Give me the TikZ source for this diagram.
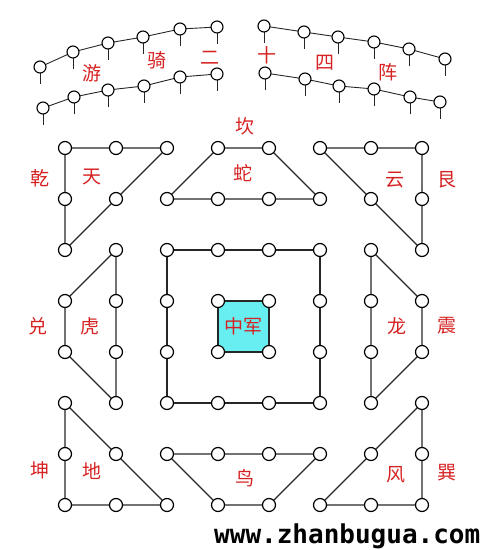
\documentclass[tikz,border=0pt]{standalone}
\usepackage{fontspec}
\newfontfamily\cjk{Noto Sans CJK SC}
\newfontfamily\wmfont{DejaVu Sans Mono}
\definecolor{lblred}{RGB}{214,34,34}
\definecolor{zjcyan}{RGB}{102,238,240}
\begin{document}
\begin{tikzpicture}[x=1pt,y=-1pt,
  dot/.style={circle,draw=black,fill=white,line width=1.2pt,minimum size=13pt,inner sep=0pt},
  pin/.style={circle,draw=black,fill=white,line width=1.1pt,minimum size=12pt,inner sep=0pt},
  edge/.style={line width=1.2pt,draw=black!85},
  pinline/.style={line width=0.9pt,draw=black!85},
  lbl/.style={text=lblred,font=\cjk\fontsize{19}{19}\selectfont,inner sep=0pt}]
\useasboundingbox (0,0) rectangle (487,550);
% top pins
\foreach \n/\x/\y in {a1/40/67,a2/73/52,a3/108/43,a4/143/37,a5/180/29,a6/217/27,
  b1/43/108,b2/74/97,b3/108/90,b4/144/86,b5/180/77,b6/217/74,
  c1/264/26,c2/304/32,c3/338/37,c4/374/42,c5/409/49,c6/445/59,
  d1/265/73,d2/305/79,d3/339/86,d4/374/89,d5/410/97,d6/440/102}
  {\coordinate (\n) at (\x,\y);
   \draw[pinline] (\n) -- ++(0,17);}
\draw[pinline] (a1)--(a2)--(a3)--(a4)--(a5)--(a6);
\draw[pinline] (b1)--(b2)--(b3)--(b4)--(b5)--(b6);
\draw[pinline] (c1)--(c2)--(c3)--(c4)--(c5)--(c6);
\draw[pinline] (d1)--(d2)--(d3)--(d4)--(d5)--(d6);
\foreach \n in {a1,a2,a3,a4,a5,a6,b1,b2,b3,b4,b5,b6,c1,c2,c3,c4,c5,c6,d1,d2,d3,d4,d5,d6}
  \node[pin] (P\n) at (\n) {};
% center square fill
\fill[zjcyan] (218,301) rectangle (269,352);
% grid nodes
\foreach \n/\x/\y in {
  A1/65/148,A2/116/148,A3/167/148,A4/65/199,A5/65/250,A6/116/199,
  S1/218/148,S2/269/148,S3/167/199,S4/218/199,S5/269/199,S6/320/199,
  C1/320/148,C2/371/148,C3/422/148,C4/422/199,C5/422/250,C6/371/199,
  T1/116/250,T2/116/301,T3/116/352,T4/116/403,T5/65/301,T6/65/352,
  Q1/167/250,Q2/218/250,Q3/269/250,Q4/320/250,Q5/320/301,Q6/320/352,Q7/320/403,
  Q8/269/403,Q9/218/403,Q10/167/403,Q11/167/352,Q12/167/301,
  M1/218/301,M2/269/301,M3/269/352,M4/218/352,
  D1/371/250,D2/371/301,D3/371/352,D4/371/403,D5/422/301,D6/422/352,
  E1/65/403,E2/65/454,E3/65/505,E4/116/505,E5/167/505,E6/116/454,
  B1/167/454,B2/218/454,B3/269/454,B4/320/454,B5/218/505,B6/269/505,
  W1/422/403,W2/422/454,W3/422/505,W4/371/505,W5/320/505,W6/371/454}
  \coordinate (\n) at (\x,\y);
\draw[edge] (A1)--(A2)--(A3)--(A6)--(A5)--(A4)--(A1);
\draw[edge] (S1)--(S2)--(S6)--(S5)--(S4)--(S3)--(S1);
\draw[edge] (C1)--(C2)--(C3)--(C4)--(C5)--(C6)--(C1);
\draw[edge] (T1)--(T2)--(T3)--(T4)--(T6)--(T5)--(T1);
\draw[edge] (Q1)--(Q2)--(Q3)--(Q4)--(Q5)--(Q6)--(Q7)--(Q8)--(Q9)--(Q10)--(Q11)--(Q12)--(Q1);
\draw[edge] (M1)--(M2)--(M3)--(M4)--(M1);
\draw[edge] (D1)--(D2)--(D3)--(D4)--(D6)--(D5)--(D1);
\draw[edge] (E1)--(E2)--(E3)--(E4)--(E5)--(E6)--(E1);
\draw[edge] (B1)--(B2)--(B3)--(B4)--(B6)--(B5)--(B1);
\draw[edge] (W1)--(W2)--(W3)--(W4)--(W5)--(W6)--(W1);
\foreach \n in {A1,A2,A3,A4,A5,A6,S1,S2,S3,S4,S5,S6,C1,C2,C3,C4,C5,C6,
  T1,T2,T3,T4,T5,T6,Q1,Q2,Q3,Q4,Q5,Q6,Q7,Q8,Q9,Q10,Q11,Q12,M1,M2,M3,M4,
  D1,D2,D3,D4,D5,D6,E1,E2,E3,E4,E5,E6,B1,B2,B3,B4,B5,B6,W1,W2,W3,W4,W5,W6}
  \node[dot] (N\n) at (\n) {};
% labels
\node[lbl] (l1) at (92,73) {游};
\node[lbl] (l2) at (157,60) {骑};
\node[lbl] (l3) at (210,58) {二};
\node[lbl] (l4) at (267,55) {十};
\node[lbl] (l5) at (325,63) {四};
\node[lbl] (l6) at (388,72) {阵};
\node[lbl] (k1) at (245,126) {坎};
\node[lbl] (k2) at (243,173) {蛇};
\node[lbl] (k3) at (40,178) {乾};
\node[lbl] (k4) at (92,177) {天};
\node[lbl] (k5) at (395,180) {云};
\node[lbl] (k6) at (447,180) {艮};
\node[lbl] (k7) at (38,326) {兑};
\node[lbl] (k8) at (90,326) {虎};
\node[lbl] (k9) at (243,326) {中军};
\node[lbl] (k10) at (397,326) {龙};
\node[lbl] (k11) at (447,326) {震};
\node[lbl] (k12) at (40,470) {坤};
\node[lbl] (k13) at (92,471) {地};
\node[lbl] (k14) at (245,478) {鸟};
\node[lbl] (k15) at (396,475) {风};
\node[lbl] (k16) at (447,473) {巽};
\node[font=\wmfont\bfseries\fontsize{26}{26}\selectfont,inner sep=0pt,anchor=base west] (wm) at (214,543) {www.zhanbugua.com};
\end{tikzpicture}
\end{document}
